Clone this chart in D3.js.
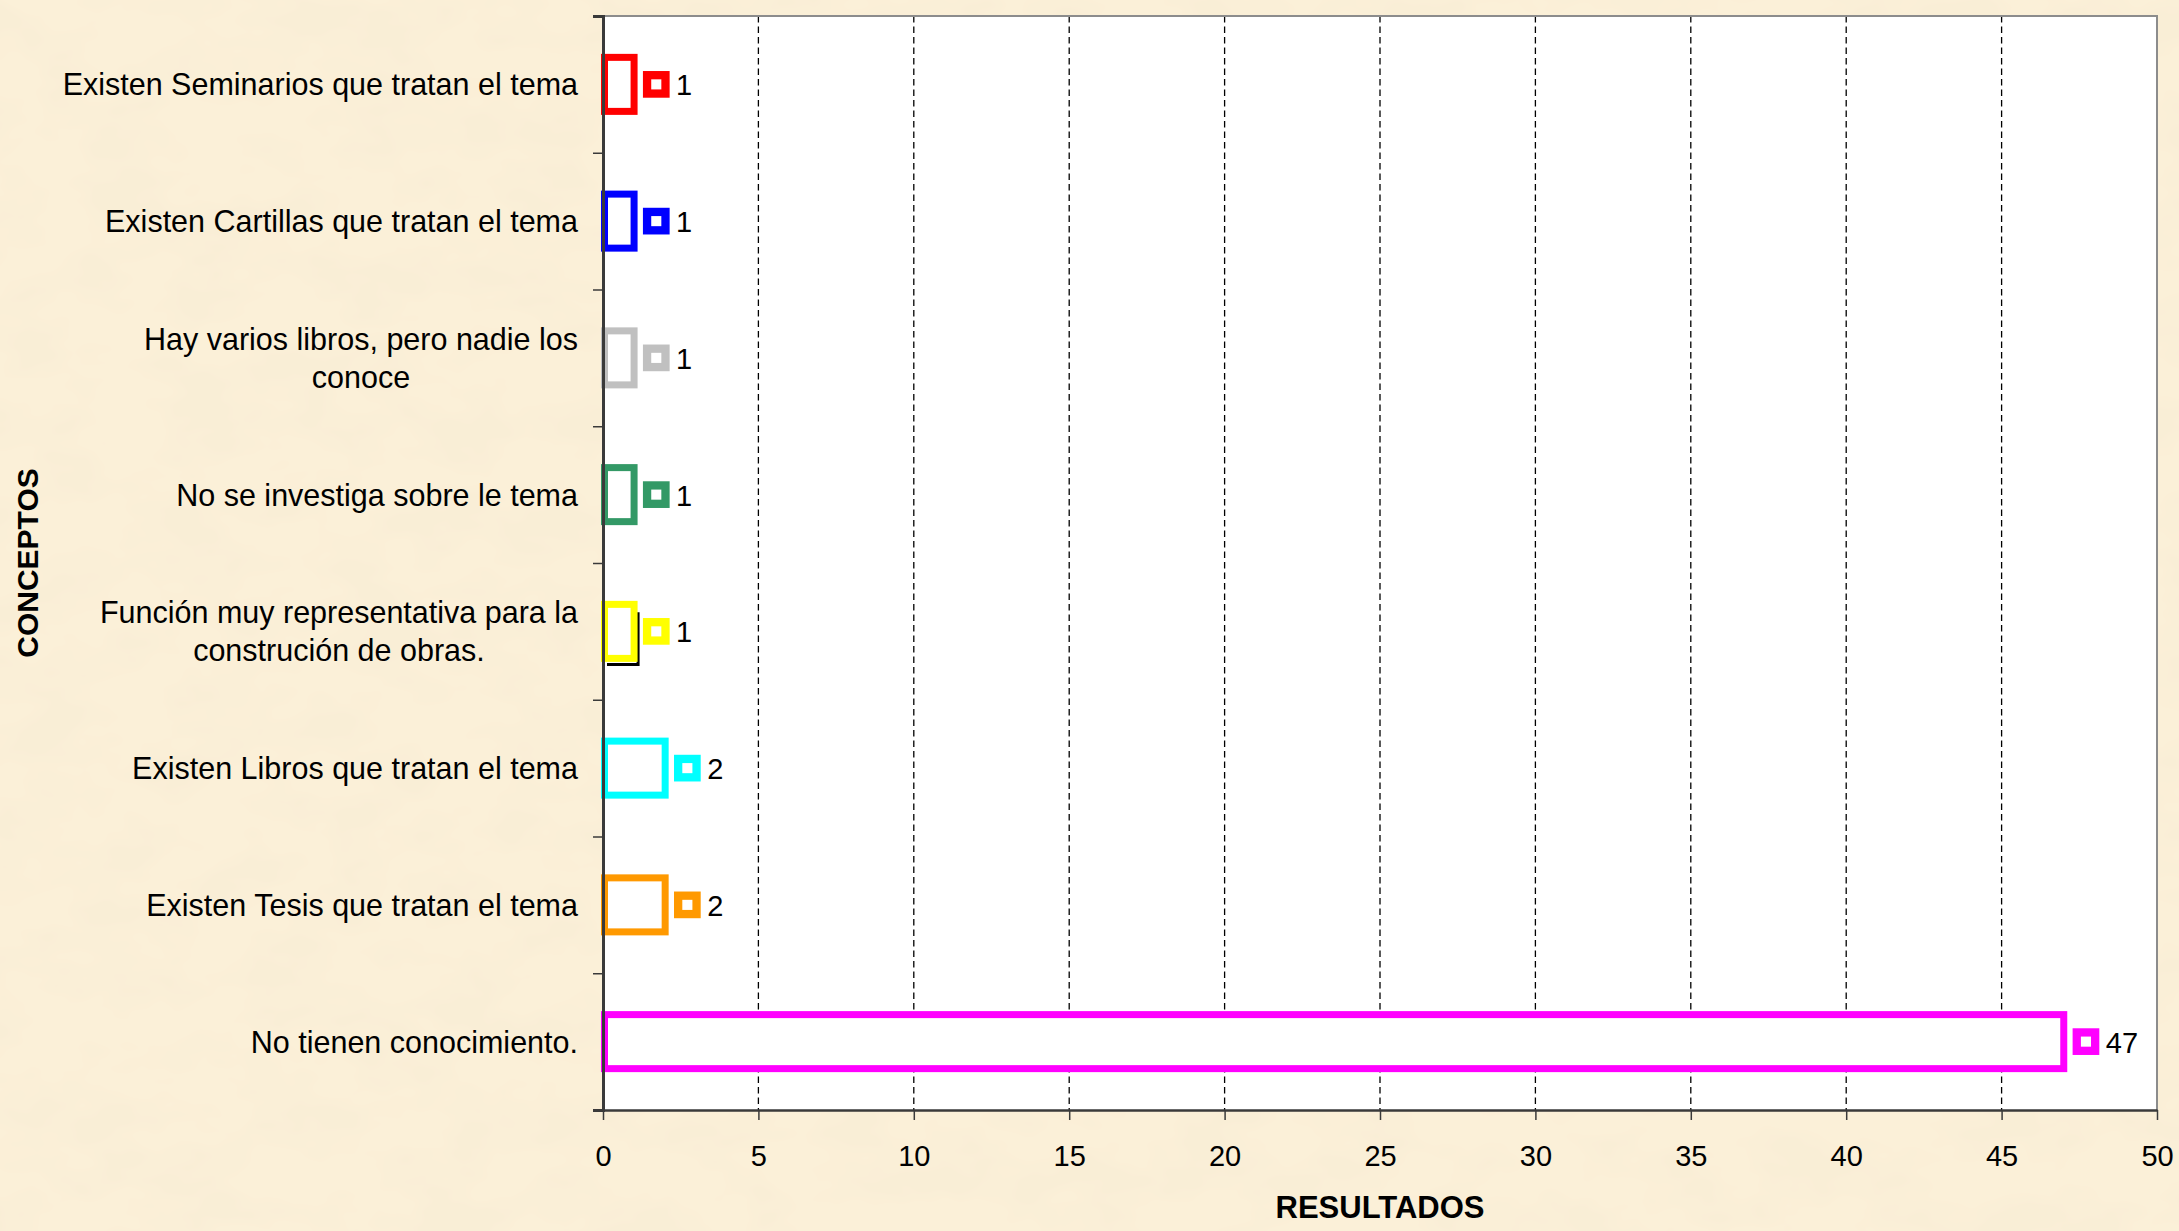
<!DOCTYPE html>
<html>
<head>
<meta charset="utf-8">
<script src="https://cdn.jsdelivr.net/npm/d3@7"></script>
<style>
  html, body { margin: 0; padding: 0; background: #f8ecd0; }
  svg { display: block; }
  text { font-family: "Liberation Sans", Arial, Helvetica, sans-serif; fill: #000; }
</style>
</head>
<body>
<script>
// ---- data ----
const categories = [
  "Existen Seminarios que tratan el tema",
  "Existen Cartillas que tratan el tema",
  "Hay varios libros, pero nadie los\nconoce",
  "No se investiga sobre le tema",
  "Función muy representativa para la\nconstrución de obras.",
  "Existen Libros que tratan el tema",
  "Existen Tesis que tratan el tema",
  "No tienen conocimiento."
];
const values = [1, 1, 1, 1, 1, 2, 2, 47];
const barColors = ["#ff0000", "#0000ff", "#c0c0c0", "#339966", "#ffff00", "#00ffff", "#ff9900", "#ff00ff"];
const xTicks = [0, 5, 10, 15, 20, 25, 30, 35, 40, 45, 50];
const xTitle = "RESULTADOS";
const yTitle = "CONCEPTOS";

// ---- layout ----
const W = 2179, H = 1231;
const L = 603, R = 2157, T = 16, B = 1110;

const svg = d3.select("body").append("svg").attr("width", W).attr("height", H);

// parchment background
const defs = svg.append("defs");
const f = defs.append("filter").attr("id", "paper").attr("x", 0).attr("y", 0).attr("width", "100%").attr("height", "100%");
f.append("feTurbulence").attr("type", "fractalNoise").attr("baseFrequency", "0.012 0.02").attr("numOctaves", 3).attr("seed", 7).attr("result", "n");
f.append("feColorMatrix").attr("in", "n").attr("type", "matrix")
  .attr("values", "0 0 0 0 0.93  0 0 0 0 0.84  0 0 0 0 0.66  0 0 0 -1.6 0.95").attr("result", "c");
f.append("feComposite").attr("in", "c").attr("in2", "SourceGraphic").attr("operator", "over");
svg.append("rect").attr("width", W).attr("height", H).attr("fill", "#fbf0d8");
svg.append("rect").attr("width", W).attr("height", H).attr("fill", "#fbf0d8").attr("filter", "url(#paper)").attr("opacity", 0.6);

// plot area
svg.append("rect").attr("x", L).attr("y", T).attr("width", R - L).attr("height", B - T).attr("fill", "#fff");

const x = d3.scaleLinear().domain([0, 50]).range([L, R]);
const y = d3.scaleBand().domain(categories).range([T, B]).paddingInner(0.605).paddingOuter(0.3025);
const yIdx = d3.scaleLinear().domain([0, categories.length]).range([T, B]);

// gridlines
svg.append("g").selectAll("line").data(xTicks.filter(t => t > 0 && t < 50)).join("line")
  .attr("x1", d => x(d)).attr("x2", d => x(d)).attr("y1", T).attr("y2", B)
  .attr("stroke", "#000").attr("stroke-width", 1.3).attr("stroke-dasharray", "6.5,4");

// top & right border
svg.append("path").attr("d", `M${L},${T}H${R}V${B}`).attr("fill", "none").attr("stroke", "#8c8c8c").attr("stroke-width", 2);

// bars
const bars = svg.append("g");
const bandH = y.bandwidth();
const sw = 7, off = 1.5;
// shadow artifact on the yellow bar
bars.append("path")
  .attr("d", `M${x(values[4]) + 4},${y(categories[4]) + 8}V${y(categories[4]) + bandH + 6}H${x(0) + 4}`)
  .attr("fill", "none").attr("stroke", "#000").attr("stroke-width", 3);
bars.selectAll("rect.bar").data(values).join("rect").attr("class", "bar")
  .attr("x", x(0) + off).attr("y", (d, i) => y(categories[i]))
  .attr("width", d => x(d) - x(0) - off).attr("height", bandH)
  .attr("fill", "#fff").attr("stroke", (d, i) => barColors[i]).attr("stroke-width", sw);

// markers + value labels
const mk = svg.append("g");
mk.selectAll("rect").data(values).join("rect")
  .attr("x", d => x(d) + 13).attr("y", (d, i) => y(categories[i]) + bandH / 2 - 9.2)
  .attr("width", 18.4).attr("height", 18.4)
  .attr("fill", "#fff").attr("stroke", (d, i) => barColors[i]).attr("stroke-width", 8.3);
mk.selectAll("text").data(values).join("text")
  .attr("x", d => x(d) + 42).attr("y", (d, i) => y(categories[i]) + bandH / 2 + 11)
  .attr("font-size", 29).text(d => d);

// axes
const yAxis = svg.append("g").attr("transform", `translate(${L},0)`)
  .call(d3.axisLeft(yIdx).tickValues(d3.range(categories.length + 1)).tickSize(10).tickFormat(""));
yAxis.select(".domain").attr("stroke", "#3a3a3a").attr("stroke-width", 3);
yAxis.selectAll(".tick line").attr("stroke", "#3a3a3a").attr("stroke-width", 1.5);

const xAxis = svg.append("g").attr("transform", `translate(0,${B})`)
  .call(d3.axisBottom(x).tickValues(xTicks).tickSize(10).tickPadding(25).tickSizeOuter(0));
xAxis.select(".domain").attr("stroke", "#3a3a3a").attr("stroke-width", 2.5);
xAxis.selectAll(".tick line").attr("stroke", "#3a3a3a").attr("stroke-width", 1.5);
xAxis.selectAll(".tick text").attr("font-size", 29).attr("font-family", "Liberation Sans, Arial, sans-serif").attr("fill", "#000");

// category labels (right-aligned block, centered lines)
const labG = svg.append("g");
categories.forEach((c, i) => {
  const lines = c.split("\n");
  const cy = y(c) + bandH / 2;
  const lh = 38;
  const g = labG.append("g");
  const ts = lines.map((ln, k) => g.append("text")
    .attr("font-size", 30.5)
    .attr("y", cy + (k - (lines.length - 1) / 2) * lh + 11)
    .text(ln));
  const maxW = d3.max(ts, t => t.node().getComputedTextLength());
  ts.forEach(t => t.attr("text-anchor", "middle").attr("x", 578 - maxW / 2));
});

// axis titles
svg.append("text").attr("x", (L + R) / 2).attr("y", 1218).attr("text-anchor", "middle")
  .attr("font-size", 31).attr("font-weight", "bold").text(xTitle);
svg.append("text").attr("transform", `translate(38,${(T + B) / 2}) rotate(-90)`).attr("text-anchor", "middle")
  .attr("font-size", 30).attr("font-weight", "bold").text(yTitle);
</script>
</body>
</html>
